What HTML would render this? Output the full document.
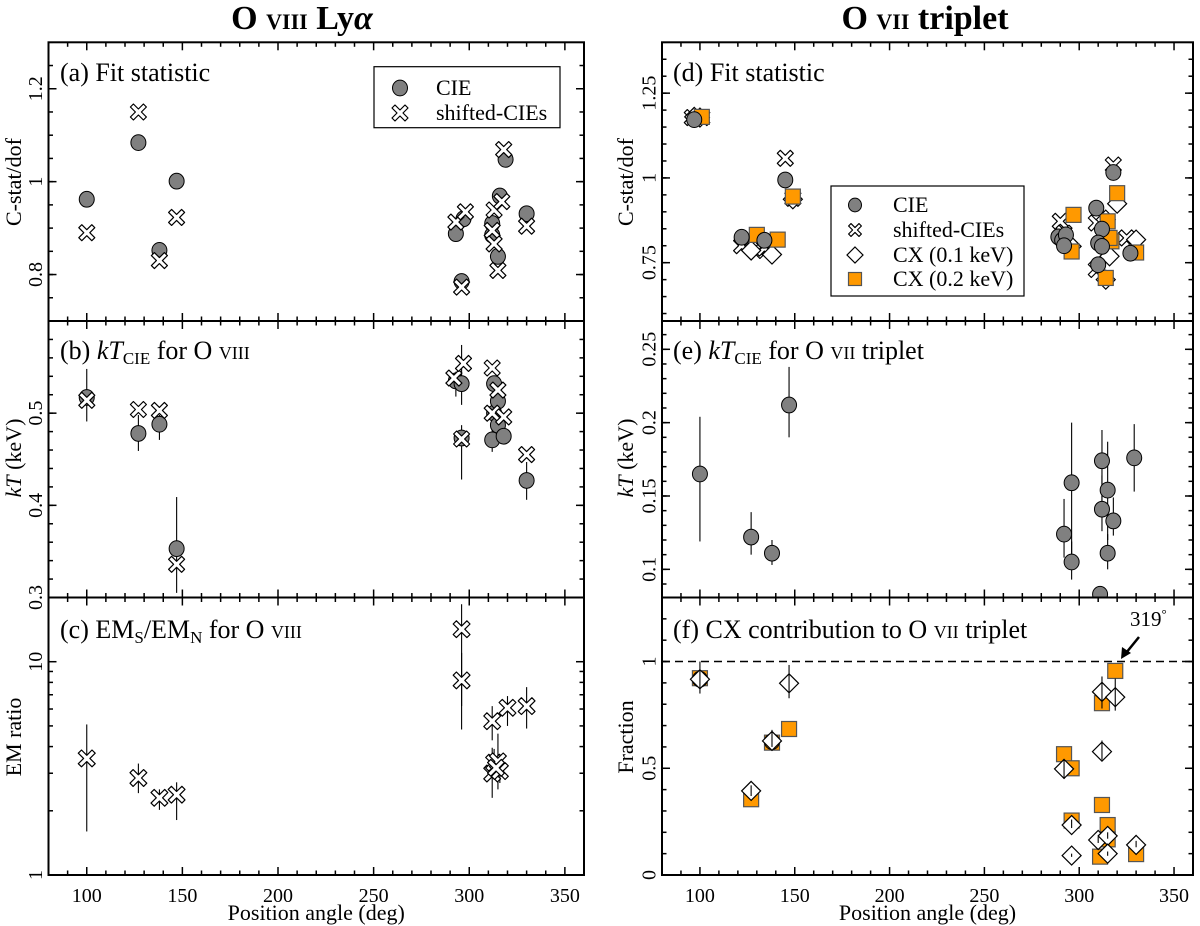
<!DOCTYPE html>
<html><head><meta charset="utf-8">
<style>
html,body{margin:0;padding:0;background:#fff;}
svg{display:block;font-family:"Liberation Serif",serif;}
</style></head>
<body>
<svg id="chart" width="1200" height="926" viewBox="0 0 1200 926" xmlns="http://www.w3.org/2000/svg">
<defs>
<clipPath id="cl0"><rect x="48.5" y="42.3" width="535.5" height="278.7"/></clipPath>
<clipPath id="cl1"><rect x="48.5" y="321" width="535.5" height="276.5"/></clipPath>
<clipPath id="cl2"><rect x="48.5" y="597.5" width="535.5" height="277.5"/></clipPath>
<clipPath id="cr0"><rect x="662" y="42.3" width="531" height="278.7"/></clipPath>
<clipPath id="cr1"><rect x="662" y="321" width="531" height="276.5"/></clipPath>
<clipPath id="cr2"><rect x="662" y="597.5" width="531" height="277.5"/></clipPath>
</defs>
</svg>
<script>
// ---- data (position angle deg, value) ----
const aCieX = [100,127,138,147,293,296,297,312,312,315,316,319,330];
const aCieY = [0.962,1.084,0.852,1.001,0.888,0.785,0.920,0.910,0.885,0.839,0.969,1.048,0.931];
const aShX = [100,127,138,147,293,296,298,312,313,313,315,317,318,330];
const aShY = [0.890,1.150,0.830,0.923,0.913,0.773,0.935,0.895,0.866,0.939,0.809,0.957,1.069,0.904];
const bCieX = [100,127,138,147,293,296,296,312,313,313,315,315,318,330];
const bCieY = [0.517,0.478,0.488,0.353,0.535,0.532,0.473,0.471,0.532,0.500,0.513,0.487,0.475,0.427];
const bCieLo = [0.491,0.459,0.471,0.305,0.518,0.509,0.428,0.458,0.525,0.495,0.505,0.480,0.470,0.406];
const bCieHi = [0.548,0.498,0.498,0.409,0.545,0.574,0.487,0.483,0.540,0.505,0.520,0.495,0.480,0.447];
const bShX = [100,127,138,147,292,297,296,312,312,315,318,330];
const bShY = [0.514,0.504,0.503,0.336,0.538,0.554,0.472,0.549,0.500,0.525,0.496,0.455];
const cX = [100,127,138,147,296,296,312,320,330,312,313,315,316,314];
const cY = [3.52,2.85,2.30,2.38,14.2,8.17,5.26,6.08,6.19,2.99,3.36,3.41,3.07,3.18];
const cLo = [1.60,2.42,2.02,1.81,6.2,4.81,4.28,5.00,4.86,2.30,2.80,2.52,2.70,2.80];
const cHi = [5.08,3.33,2.52,2.72,18.6,11.0,6.19,6.90,7.60,3.95,3.90,4.60,3.50,3.60];
const dCieX = [97,122,134,145,289,291,293,292,309,312,310,312,310,318,327];
const dCieY = [1.172,0.825,0.816,0.994,0.826,0.816,0.832,0.800,0.911,0.849,0.808,0.798,0.744,1.016,0.778];
const dShX = [96,101,122,129,134,145,149,290,292,309,312,318,309,325];
const dShY = [1.178,1.178,0.800,0.786,0.793,1.058,0.940,0.872,0.837,0.867,0.837,1.038,0.730,0.823];
const dCx1X = [97,100,127,138,149,293,296,313,314,316,320,314,330];
const dCx1Y = [1.180,1.178,0.786,0.774,0.937,0.813,0.798,0.818,0.877,0.769,0.924,0.700,0.818];
const dCx2X = [101,130,141,149,297,296,315,317,320,314,330,316];
const dCx2Y = [1.180,0.832,0.818,0.945,0.891,0.783,0.872,0.813,0.955,0.705,0.780,0.823];
const eX = [100,127,138,147,292,296,296,312,312,315,315,318,329,311];
const eY = [0.165,0.122,0.111,0.212,0.124,0.159,0.105,0.174,0.141,0.154,0.111,0.133,0.176,0.083];
const eLo = [0.119,0.110,0.103,0.190,0.108,0.110,0.093,0.140,0.126,0.120,0.100,0.123,0.153,0.080];
const eHi = [0.204,0.139,0.120,0.238,0.148,0.200,0.119,0.195,0.164,0.187,0.124,0.149,0.199,0.086];
const fCx1X = [100,127,138,147,292,296,296,312,312,310,315,315,319,330];
const fCx1Y = [0.917,0.394,0.628,0.898,0.497,0.234,0.091,0.858,0.578,0.164,0.183,0.100,0.833,0.141];
const fCx1Lo = [0.85,0.37,0.60,0.828,0.45,0.22,0.085,0.78,0.54,0.15,0.17,0.09,0.77,0.13];
const fCx1Hi = [1.00,0.42,0.68,0.984,0.54,0.26,0.10,0.93,0.63,0.18,0.20,0.11,0.92,0.16];
const fCx2X = [100,127,138,147,292,296,296,312,312,311,315,315,319,330];
const fCx2Y = [0.922,0.355,0.620,0.684,0.566,0.500,0.255,0.805,0.328,0.086,0.234,0.167,0.956,0.098];
const fCircX = [100,138];
const fCircY = [0.917,0.625];
const xTicks = [100,150,200,250,300,350];
const aTicks = [0.8,1,1.2]; const aTickLbl = ["0.8","1","1.2"];
const bTicks = [0.3,0.4,0.5]; const bTickLbl = ["0.3","0.4","0.5"];
const cTicks = [1,10]; const cTickLbl = ["1","10"];
const dTicks = [0.75,1,1.25]; const dTickLbl = ["0.75","1","1.25"];
const eTicks = [0.1,0.15,0.2,0.25]; const eTickLbl = ["0.1","0.15","0.2","0.25"];
const fTicks = [0,0.5,1]; const fTickLbl = ["0","0.5","1"];

const NS="http://www.w3.org/2000/svg";
const svg=document.getElementById('chart');
function mk(tag,attrs,parent){const e=document.createElementNS(NS,tag);for(const k in attrs)e.setAttribute(k,attrs[k]);(parent||svg).appendChild(e);return e;}

const cols={L:{x0:48.5,x1:584,d0:80,d1:360},R:{x0:662,x1:1193,d0:80,d1:360}};
const rows=[[42.3,321],[321,597.5],[597.5,875]];
function xs(col,d){const c=cols[col];return c.x0+(d-c.d0)*(c.x1-c.x0)/(c.d1-c.d0);}
function linY(row,v0,v1){const r=rows[row];return v=>r[1]-(v-v0)*(r[1]-r[0])/(v1-v0);}
function logY(row,v0,v1){const r=rows[row];return v=>r[1]-(Math.log10(v)-Math.log10(v0))*(r[1]-r[0])/(Math.log10(v1)-Math.log10(v0));}

const ya=linY(0,0.7,1.3), yb=linY(1,0.3,0.6), yc=logY(2,1,20);
const yd=linY(0,0.578,1.40), ye=linY(1,0.0808,0.2693), yf=linY(2,0,1.3);

function circle(g,x,y,r,fill){const e=mk('ellipse',{cx:x,cy:y,rx:r||7.5,ry:(r||7.5)*1.05,fill:fill||'#808080',stroke:'#000','stroke-width':1},g);

return e;}
function cross(g,x,y,s){s=s||1;const p=[[-8,-5],[-5,-8],[0,-3],[5,-8],[8,-5],[3,0],[8,5],[5,8],[0,3],[-5,8],[-8,5],[-3,0]].map(q=>(x+q[0]*s).toFixed(1)+','+(y+q[1]*s).toFixed(1)).join(' ');
const e=mk('polygon',{points:p,fill:'#fff',stroke:'#000','stroke-width':1.2,'stroke-linejoin':'round'},g);

return e;}
function diamond(g,x,y,s){s=s||9.5;const e=mk('polygon',{points:`${x},${y-s} ${x+s},${y} ${x},${y+s} ${x-s},${y}`,fill:'#fff',stroke:'#000','stroke-width':1.2},g);

return e;}
function square(g,x,y,s){s=s||7.5;const e=mk('rect',{x:x-s,y:y-s,width:2*s,height:2*s,fill:'#ff9900',stroke:'#555','stroke-width':1.2},g);

return e;}
function ebar(g,x,y0,y1){const e=mk('line',{x1:x,x2:x,y1:y0,y2:y1,stroke:'#000','stroke-width':1.1},g);

return e;}

function frame(col,row,name){
  const c=cols[col],r=rows[row];
  const g=mk('g',{});
  
  
  mk('rect',{x:c.x0,y:r[0],width:c.x1-c.x0,height:r[1]-r[0],fill:'none',stroke:'#000','stroke-width':2},g);
  for(let d=90;d<360;d+=10){const x=xs(col,d);const L=(d%50===0)?8:4.5;
    mk('line',{x1:x,x2:x,y1:r[1],y2:r[1]-L,stroke:'#000','stroke-width':1.5},g);
    mk('line',{x1:x,x2:x,y1:r[0],y2:r[0]+L,stroke:'#000','stroke-width':1.5},g);}
  return g;
}
function yticks(g,col,ys,majors,minors,labels){
  const c=cols[col];const lx=col==='L'?42:655.5;
  majors.forEach((v,i)=>{const y=ys(v);
    mk('line',{x1:c.x0,x2:c.x0+8,y1:y,y2:y,stroke:'#000','stroke-width':1.5},g);
    mk('line',{x1:c.x1,x2:c.x1-8,y1:y,y2:y,stroke:'#000','stroke-width':1.5},g);
    const t=mk('text',{x:lx,y:y,'font-size':20,'text-anchor':'middle',transform:`rotate(-90 ${lx} ${y})`},g);t.textContent=labels[i];
    
    });
  minors.forEach(v=>{const y=ys(v);
    mk('line',{x1:c.x0,x2:c.x0+4.5,y1:y,y2:y,stroke:'#000','stroke-width':1.5},g);
    mk('line',{x1:c.x1,x2:c.x1-4.5,y1:y,y2:y,stroke:'#000','stroke-width':1.5},g);});
}
function range(a,b,s){const o=[];for(let v=a;v<=b+1e-9;v+=s)o.push(+v.toFixed(4));return o;}
function ytitle(x,y,html,name){const t=mk('text',{x:x,y:y,'font-size':22,'text-anchor':'middle',transform:`rotate(-90 ${x} ${y})`});t.innerHTML=html;

}
function label(x,y,html,name){const t=mk('text',{x:x,y:y,'font-size':26});t.innerHTML=html;

}

// ---- Panel a ----
let g=frame('L',0,'panel-a');
yticks(g,'L',ya,aTicks,range(0.7,1.3,0.05),aTickLbl);
let p=mk('g',{'clip-path':'url(#cl0)'});
aCieX.forEach((d,i)=>circle(p,xs('L',d),ya(aCieY[i])));
aShX.forEach((d,i)=>cross(p,xs('L',d),ya(aShY[i])));
label(60,81,'(a) Fit statistic','panel-a-label');
ytitle(21,182,'C-stat/dof','y-axis-title-a');
let lg=mk('g',{});
mk('rect',{x:374,y:66.7,width:186,height:61,fill:'#fff',stroke:'#000','stroke-width':1.2},lg);
circle(lg,400,88);cross(lg,400,113);
let t=mk('text',{x:436,y:95,'font-size':22},lg);t.textContent='CIE';
t=mk('text',{x:436,y:120,'font-size':22},lg);t.textContent='shifted-CIEs';

// ---- Panel b ----
g=frame('L',1,'panel-b');
yticks(g,'L',yb,bTicks,range(0.3,0.6,0.02),bTickLbl);
p=mk('g',{'clip-path':'url(#cl1)'});
bCieX.forEach((d,i)=>ebar(p,xs('L',d),yb(bCieLo[i]),yb(bCieHi[i])));
bCieX.forEach((d,i)=>circle(p,xs('L',d),yb(bCieY[i])));
bShX.forEach((d,i)=>cross(p,xs('L',d),yb(bShY[i])));
label(60,359,'(b) <tspan font-style="italic">kT</tspan><tspan font-size="17" dy="5">CIE</tspan><tspan dy="-5"> for O </tspan><tspan font-size="18">VIII</tspan>','panel-b-label');
ytitle(21,458,'<tspan font-style="italic">kT</tspan> (keV)','y-axis-title-b');

// ---- Panel c ----
g=frame('L',2,'panel-c');
const cMinor=[];[1,10].forEach(b=>{for(let k=2;k<=9;k++){if(b*k<=20)cMinor.push(b*k);}});
yticks(g,'L',yc,cTicks,cMinor,cTickLbl);
p=mk('g',{'clip-path':'url(#cl2)'});
cX.forEach((d,i)=>ebar(p,xs('L',d),yc(cLo[i]),yc(cHi[i])));
cX.forEach((d,i)=>cross(p,xs('L',d),yc(cY[i]),1.05));
label(60,638,'(c) EM<tspan font-size="17" dy="5">S</tspan><tspan dy="-5">/EM</tspan><tspan font-size="17" dy="5">N</tspan><tspan dy="-5"> for O </tspan><tspan font-size="18">VIII</tspan>','panel-c-label');
ytitle(21,737,'EM ratio','y-axis-title-c');

// ---- Panel d ----
g=frame('R',0,'panel-d');
yticks(g,'R',yd,dTicks,range(0.6,1.4,0.05),dTickLbl);
p=mk('g',{'clip-path':'url(#cr0)'});
dShX.forEach((d,i)=>cross(p,xs('R',d),yd(dShY[i])));
dCx1X.forEach((d,i)=>diamond(p,xs('R',d),yd(dCx1Y[i])));
dCx2X.forEach((d,i)=>square(p,xs('R',d),yd(dCx2Y[i])));
dCieX.forEach((d,i)=>circle(p,xs('R',d),yd(dCieY[i])));
label(673,81,'(d) Fit statistic','panel-d-label');
ytitle(633,182,'C-stat/dof','y-axis-title-d');
lg=mk('g',{});
mk('rect',{x:831,y:186,width:193,height:110,fill:'#fff',stroke:'#000','stroke-width':1.2},lg);
circle(lg,855,205,6.5);cross(lg,855,230,0.8);diamond(lg,855,255,8);square(lg,855,279,6.5);
[['CIE',212],['shifted-CIEs',237],['CX (0.1 keV)',262],['CX (0.2 keV)',286]].forEach(a=>{const tt=mk('text',{x:893,y:a[1],'font-size':22},lg);tt.textContent=a[0];});

// ---- Panel e ----
g=frame('R',1,'panel-e');
yticks(g,'R',ye,eTicks,range(0.09,0.26,0.01),eTickLbl);
p=mk('g',{'clip-path':'url(#cr1)'});
eX.forEach((d,i)=>ebar(p,xs('R',d),ye(eLo[i]),ye(eHi[i])));
eX.forEach((d,i)=>circle(p,xs('R',d),ye(eY[i])));
label(673,359,'(e) <tspan font-style="italic">kT</tspan><tspan font-size="17" dy="5">CIE</tspan><tspan dy="-5"> for O </tspan><tspan font-size="18">VII</tspan><tspan> triplet</tspan>','panel-e-label');
ytitle(633,458,'<tspan font-style="italic">kT</tspan> (keV)','y-axis-title-e');

// ---- Panel f ----
g=frame('R',2,'panel-f');
yticks(g,'R',yf,fTicks,range(0.1,1.3,0.1),fTickLbl);
p=mk('g',{'clip-path':'url(#cr2)'});
let dl=mk('line',{x1:662,x2:1193,y1:yf(1),y2:yf(1),stroke:'#000','stroke-width':1.5,'stroke-dasharray':'8,5'},p);

fCx2X.forEach((d,i)=>square(p,xs('R',d),yf(fCx2Y[i])));
fCircX.forEach((d,i)=>circle(p,xs('R',d),yf(fCircY[i]),7.5,'#ff9900'));
fCx1X.forEach((d,i)=>diamond(p,xs('R',d),yf(fCx1Y[i])));
fCx1X.forEach((d,i)=>ebar(p,xs('R',d),yf(fCx1Lo[i]),yf(fCx1Hi[i])));
label(673,638,'(f) CX contribution to O <tspan font-size="18">VII</tspan> triplet','panel-f-label');
ytitle(633,737,'Fraction','y-axis-title-f');
t=mk('text',{x:1130,y:626,'font-size':21});t.innerHTML='319<tspan font-size="13" dy="-8">°</tspan>';

let ar=mk('g',{});
mk('line',{x1:1139,y1:637,x2:1126,y2:653,stroke:'#000','stroke-width':2.5},ar);
mk('polygon',{points:'1121,659 1122,647 1131,653',fill:'#000'},ar);

['L','R'].forEach(col=>{xTicks.forEach(v=>{const tt=mk('text',{x:xs(col,v),y:902,'font-size':20,'text-anchor':'middle'});tt.textContent=v;
});
const c=cols[col];const tt=mk('text',{x:(c.x0+c.x1)/2,y:920,'font-size':22,'text-anchor':'middle'});tt.textContent='Position angle (deg)';
});

t=mk('text',{x:302,y:29,'font-size':34,'font-weight':'bold','text-anchor':'middle'});
t.innerHTML='O <tspan font-size="22">VIII</tspan> Ly<tspan font-style="italic">α</tspan>';

t=mk('text',{x:925,y:29,'font-size':34,'font-weight':'bold','text-anchor':'middle'});
t.innerHTML='O <tspan font-size="22">VII</tspan> triplet';

</script>
</body></html>
